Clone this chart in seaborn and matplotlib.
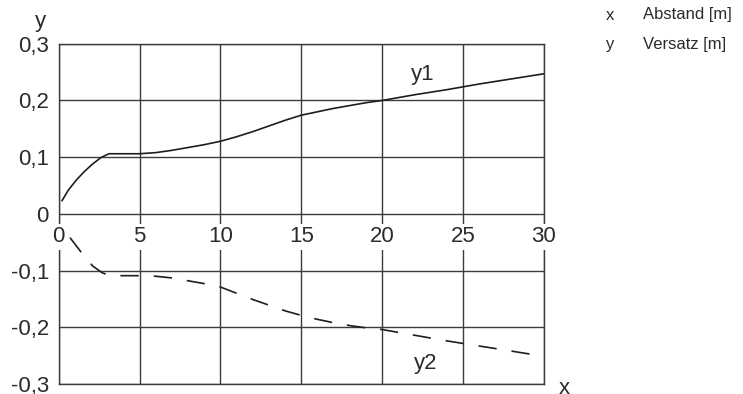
import matplotlib
matplotlib.use('Agg')
import matplotlib.pyplot as plt
import seaborn as sns
import pandas as pd

# curve y1 (solid)
y1_x = [0.2, 0.6, 1.1, 1.6, 2.1, 2.6, 3.1, 4, 5, 6, 7, 8, 9, 10, 11, 12, 13, 14,
        15, 16, 17, 18, 19, 20, 22, 24, 26, 28, 30]
y1_y = [0.023, 0.042, 0.060, 0.075, 0.088, 0.099, 0.106, 0.106, 0.106, 0.108,
        0.112, 0.117, 0.122, 0.128, 0.136, 0.145, 0.155, 0.165, 0.174, 0.180,
        0.186, 0.191, 0.196, 0.200, 0.210, 0.219, 0.229, 0.238, 0.247]

# curve y2 (dashed)
y2_x = [0.7, 1.4, 2.1, 2.7, 3.2, 4, 5, 6, 7, 8, 9, 10, 11, 12, 13, 14, 15, 16,
        17, 18, 19, 20, 22, 24, 26, 28, 29.3]
y2_y = [-0.042, -0.068, -0.092, -0.104, -0.109, -0.109, -0.109, -0.110, -0.113,
        -0.118, -0.123, -0.129, -0.140, -0.151, -0.161, -0.171, -0.179, -0.186,
        -0.192, -0.197, -0.201, -0.204, -0.214, -0.224, -0.233, -0.242, -0.248]

x_ticks = [0, 5, 10, 15, 20, 25, 30]
x_tick_labels = ['0', '5', '10', '15', '20', '25', '30']
y_ticks = [-0.3, -0.2, -0.1, 0, 0.1, 0.2, 0.3]
y_tick_labels = ['-0,3', '-0,2', '-0,1', '0', '0,1', '0,2', '0,3']

legend_keys = ['x', 'y']
legend_texts = ['Abstand [m]', 'Versatz [m]']

sns.set_style('white')
plt.rcParams['font.family'] = ['Liberation Sans', 'DejaVu Sans']

txt = '#2b2b2b'
grid_c = '#3c3c3c'

df1 = pd.DataFrame({'x': y1_x, 'y': y1_y})
df2 = pd.DataFrame({'x': y2_x, 'y': y2_y})

fig = plt.figure(figsize=(7.43, 3.94), dpi=100)
ax = fig.add_axes([0.079, 0.0254, 0.653, 0.8636])

sns.lineplot(data=df1, x='x', y='y', ax=ax, color='#1e1e1e', linewidth=1.2,
             sort=False, zorder=5)
sns.lineplot(data=df2, x='x', y='y', ax=ax, color='#1e1e1e', linewidth=1.2,
             sort=False, zorder=5)
ax.lines[1].set_dashes((11, 9))

ax.set_xlim(0, 30)
ax.set_ylim(-0.3, 0.3)
ax.set_xticks(x_ticks)
ax.set_xticklabels([])
ax.set_yticks(y_ticks)
ax.set_yticklabels(y_tick_labels, fontsize=16, color=txt)
ax.tick_params(axis='both', length=0)
ax.tick_params(axis='y', pad=7)
ax.grid(True, color=grid_c, linewidth=1.0)
for s in ax.spines.values():
    s.set_color(grid_c)
    s.set_linewidth(1.0)
ax.set_xlabel('')
ax.set_ylabel('')

# x tick labels sit on the zero line with a white background
for xv, lab in zip(x_ticks, x_tick_labels):
    ax.annotate(lab, xy=(xv, 0), xytext=(0, -16.5), textcoords='offset points',
                ha='center', va='center', fontsize=16, color=txt, zorder=4,
                bbox=dict(boxstyle='square,pad=0.12', fc='white', ec='none'))

ax.text(22.5, 0.245, 'y1', fontsize=16, color=txt, ha='center', va='center')
ax.text(22.7, -0.263, 'y2', fontsize=16, color=txt, ha='center', va='center')

fig.text(40 / 743, 1 - 22 / 394, 'y', fontsize=16, color=txt,
         ha='center', va='center')
fig.text(564 / 743, 1 - 388 / 394, 'x', fontsize=16, color=txt,
         ha='center', va='center')

for i, (k, t) in enumerate(zip(legend_keys, legend_texts)):
    yy = 1 - (15 + 30 * i) / 394
    fig.text(610 / 743, yy, k, fontsize=12, color=txt, ha='center', va='center')
    fig.text(643 / 743, yy, t, fontsize=12, color=txt, ha='left', va='center')

fig.savefig('out.png', dpi=100)
